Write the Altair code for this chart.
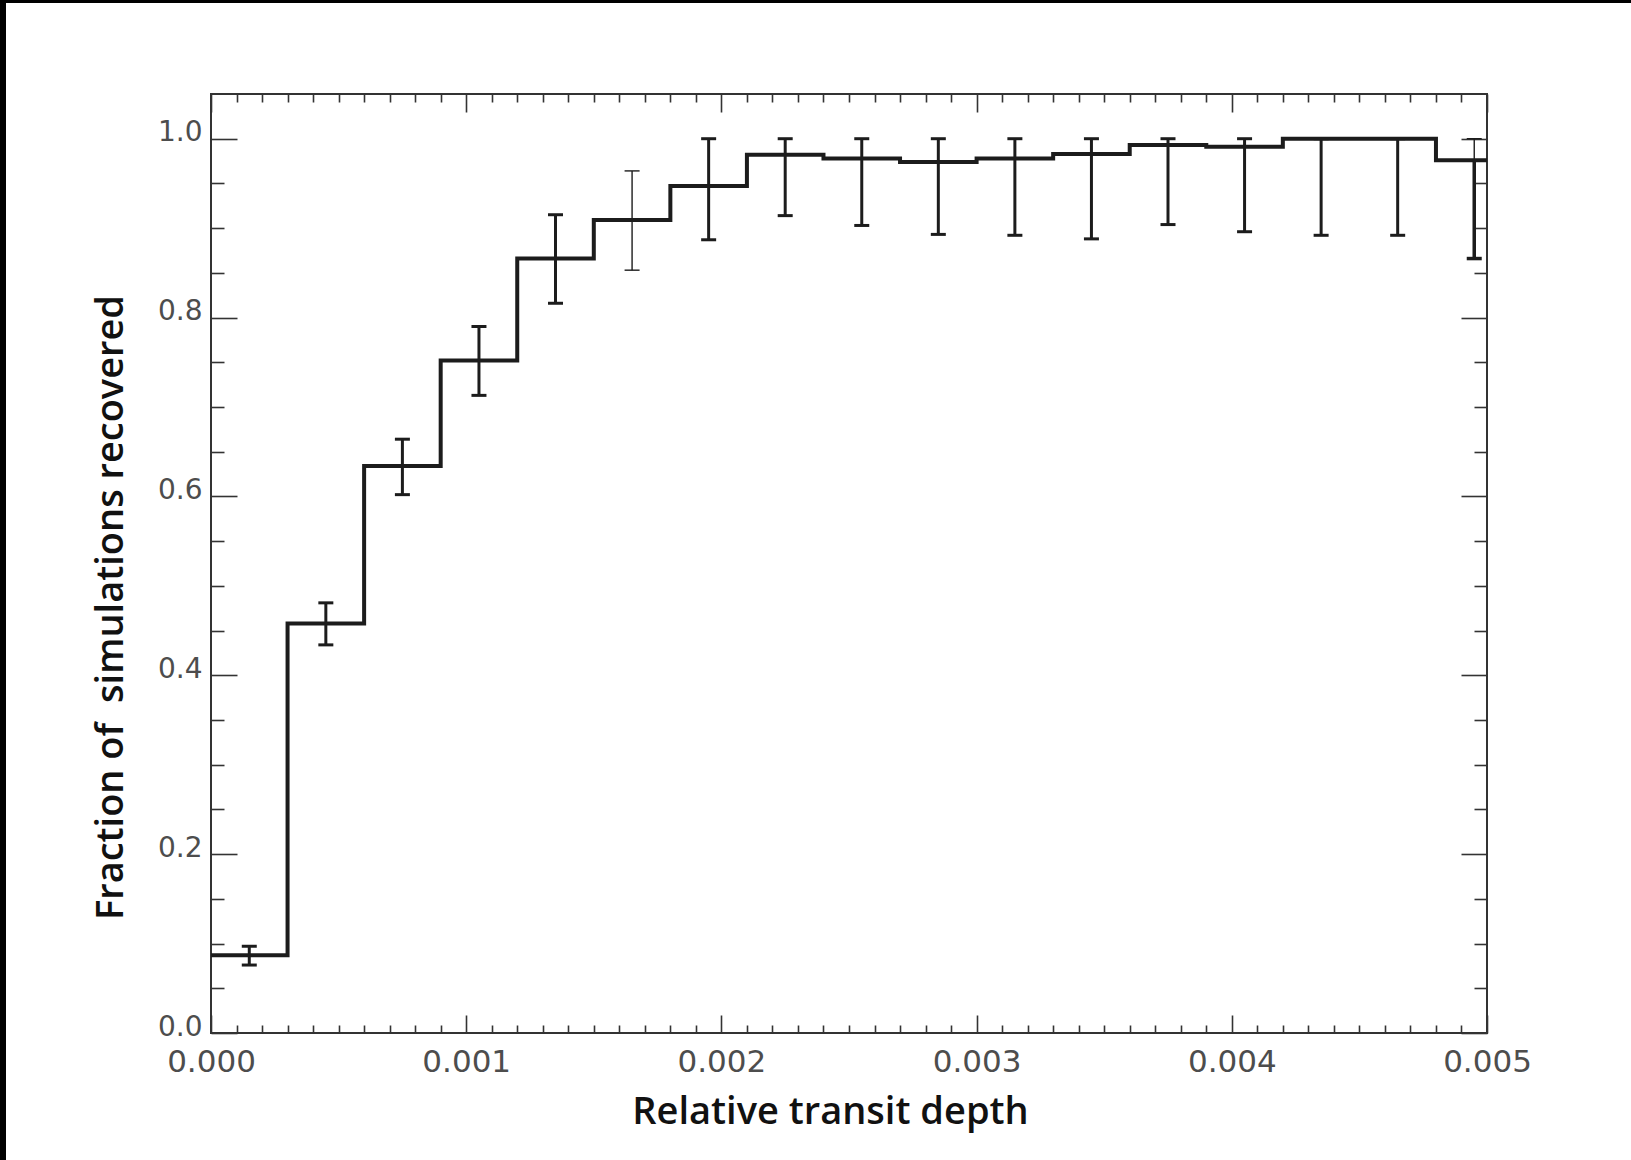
import altair as alt
import pandas as pd

# ---- data ----
bin_left = [0.0000, 0.0003, 0.0006, 0.0009, 0.0012, 0.0015, 0.0018, 0.0021, 0.0024,
            0.0027, 0.0030, 0.0033, 0.0036, 0.0039, 0.0042, 0.0045, 0.0048]
bin_center = [0.00015, 0.00045, 0.00075, 0.00105, 0.00135, 0.00165, 0.00195, 0.00225, 0.00255,
              0.00285, 0.00315, 0.00345, 0.00375, 0.00405, 0.00435, 0.00465, 0.00495]
frac = [0.087, 0.458, 0.634, 0.752, 0.866, 0.909, 0.947, 0.982, 0.978,
        0.974, 0.978, 0.983, 0.993, 0.991, 1.000, 1.000, 0.976]
err_lo = [0.076, 0.434, 0.602, 0.713, 0.816, 0.853, 0.887, 0.914, 0.903,
          0.893, 0.892, 0.888, 0.904, 0.896, 0.892, 0.892, 0.866]
err_hi = [0.097, 0.481, 0.664, 0.790, 0.915, 0.964, 1.000, 1.000, 1.000,
          1.000, 1.000, 1.000, 1.000, 1.000, 1.000, 1.000, 1.000]
# line weight of lower / upper half of each error bar
w_lo = [3, 3, 3, 3, 3, 1.4, 3, 3, 3, 3, 3, 3, 3, 3, 3, 3, 3.5]
w_hi = [3, 3, 3, 3, 3, 1.4, 3, 3, 3, 3, 3, 3, 3, 3, 3, 3, 1.4]
x_end = 0.005

x_major = [0.000, 0.001, 0.002, 0.003, 0.004, 0.005]
x_minor = [round(i * 0.0001, 4) for i in range(51) if i % 10 != 0]
y_major = [0.0, 0.2, 0.4, 0.6, 0.8, 1.0]
y_minor = [round(i * 0.05, 2) for i in range(20) if i % 4 != 0]

x_title = "Relative transit depth"
y_title = "Fraction of\u00a0 simulations recovered"

# ---- tables ----
step_df = pd.DataFrame({"x": bin_left + [x_end], "y": frac + [frac[-1]]})
seg_df = pd.DataFrame({
    "x": bin_center * 2,
    "y": err_lo + frac,
    "y2": frac + err_hi,
    "w": w_lo + w_hi,
})
cap_df = pd.DataFrame({
    "x": bin_center * 2,
    "y": err_lo + err_hi,
    "w": w_lo + w_hi,
})

xs = alt.Scale(domain=[0, 0.005], nice=False, zero=False)
ys = alt.Scale(domain=[0, 1.05], nice=False, zero=False)
INK = "#1c1c1c"
TICK = "#333333"
LABEL = "#4d4d4d"

def tick_axis(orient, values, size):
    return alt.Axis(orient=orient, values=values, tickSize=size, offset=-size,
                    labels=False, domain=False, grid=False, title=None,
                    ticks=True, tickColor=TICK, tickWidth=1.6)

line = alt.Chart(step_df).mark_line(interpolate="step-after", color=INK, strokeWidth=4).encode(
    x=alt.X("x:Q", scale=xs, axis=alt.Axis(
        orient="bottom", values=x_major, format=".3f", ticks=False, tickSize=0, domain=False,
        grid=False, labelPadding=14, labelFont="DejaVu Sans", labelFontSize=31,
        labelFontWeight="normal", labelColor=LABEL, labelFlush=False,
        title=x_title, titleFont="Open Sans", titleFontSize=38, titleFontWeight=600,
        titleColor="#111111", titleX=619, titleY=90, titleBaseline="alphabetic")),
    y=alt.Y("y:Q", scale=ys, axis=alt.Axis(
        orient="left", values=y_major, format=".1f", ticks=False, tickSize=0, domain=False,
        grid=False, labelPadding=9, labelFont="DejaVu Sans", labelFontSize=28,
        labelFontWeight="normal", labelColor=LABEL, labelFlush=False, labelOffset=-6,
        title=y_title, titleFont="Open Sans", titleFontSize=38, titleFontWeight=600,
        titleColor="#111111", titleX=-89, titleY=513, titleBaseline="alphabetic")),
)

bars = alt.Chart(seg_df).mark_rule(color=INK).encode(
    x=alt.X("x:Q", scale=xs, axis=None),
    y=alt.Y("y:Q", scale=ys, axis=None),
    y2="y2:Q",
    strokeWidth=alt.StrokeWidth("w:Q", scale=None, legend=None),
)

caps = alt.Chart(cap_df).mark_rule(color=INK, xOffset=-7.5, x2Offset=7.5).encode(
    x=alt.X("x:Q", scale=xs, axis=None),
    x2="x:Q",
    y=alt.Y("y:Q", scale=ys, axis=None),
    strokeWidth=alt.StrokeWidth("w:Q", scale=None, legend=None),
)

def ticks_layer(xo, yo, xv, yv, xsz, ysz):
    return alt.Chart(step_df).mark_point(opacity=0).encode(
        x=alt.X("x:Q", scale=xs, axis=tick_axis(xo, xv, xsz)),
        y=alt.Y("y:Q", scale=ys, axis=tick_axis(yo, yv, ysz)),
    )

t1 = ticks_layer("bottom", "left", x_major, y_major, 18, 26)
t2 = ticks_layer("bottom", "left", x_minor, y_minor, 8, 13)
t3 = ticks_layer("top", "right", x_major, y_major, 18, 26)
t4 = ticks_layer("top", "right", x_minor, y_minor, 8, 13)

# thin dark border strips along the image's left and top edges (decoration)
one = pd.DataFrame({"k": [0]})
edge_left = alt.Chart(one).mark_rect(color="black").encode(
    x=alt.value(-211), x2=alt.value(-205), y=alt.value(-94), y2=alt.value(1066))
edge_top = alt.Chart(one).mark_rect(color="black").encode(
    x=alt.value(-211), x2=alt.value(1420), y=alt.value(-94), y2=alt.value(-91))

chart = alt.layer(edge_left, edge_top, t1, t2, t3, t4, bars, caps, line).resolve_axis(
    x="independent", y="independent"
).properties(
    width=1276, height=939,
    autosize=alt.AutoSizeParams(type="none"),
    padding={"left": 211, "top": 94, "right": 144, "bottom": 127},
    background="white",
).configure_view(stroke="#333333", strokeWidth=2)

chart.save("out.html", embed_options={"renderer": "svg", "actions": False})
